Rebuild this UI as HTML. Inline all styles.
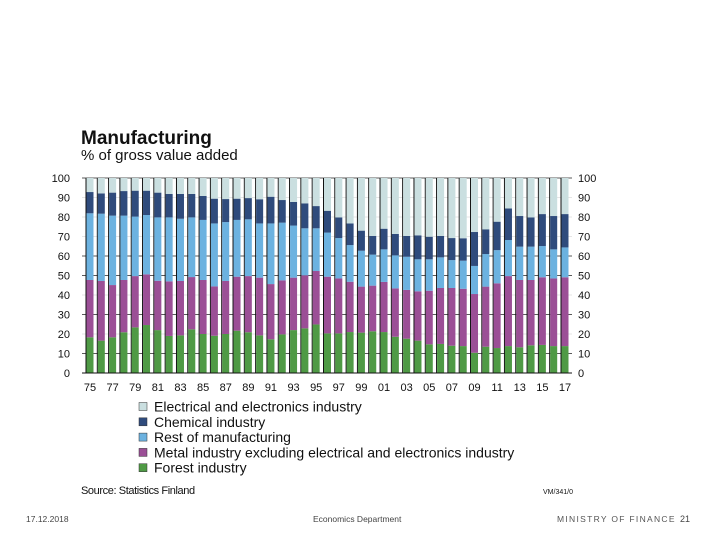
<!DOCTYPE html>
<html><head><meta charset="utf-8">
<style>
body{margin:0;background:#fff;}
svg text{font-family:"Liberation Sans",Arial,sans-serif;}
</style></head>
<body>
<svg id="chart" width="720" height="540" viewBox="0 0 720 540" xmlns="http://www.w3.org/2000/svg">
<rect width="720" height="540" fill="#fff"/>
<text x="81" y="144" font-size="19" font-weight="bold" fill="#111">Manufacturing</text>
<text x="81" y="160" font-size="15" fill="#111">% of gross value added</text>
<g id="grid"></g>
<g id="bars"></g>
<g id="axes"></g>
<g id="legend"></g>
<text x="81" y="494" font-size="11" fill="#111" letter-spacing="-0.4">Source: Statistics Finland</text>
<text x="543" y="494" font-size="7" fill="#111">VM/341/0</text>
<text x="26" y="522" font-size="8.5" fill="#444">17.12.2018</text>
<text x="313" y="522" font-size="8.5" fill="#444">Economics Department</text>
<text x="557" y="522" font-size="8.5" fill="#555" letter-spacing="1.3">MINISTRY OF FINANCE</text>
<text x="680" y="522" font-size="9" fill="#444">21</text>
</svg>
<script>
const years=[75,76,77,78,79,80,81,82,83,84,85,86,87,88,89,90,91,92,93,94,95,96,97,98,99,0,1,2,3,4,5,6,7,8,9,10,11,12,13,14,15,16,17];
const forest=[18.3,16.6,18.3,20.9,23.4,24.6,22.0,19.0,19.3,22.4,20.0,19.1,20.0,21.7,20.9,19.3,17.3,19.8,22.0,22.9,24.9,20.3,20.3,21.0,20.7,21.4,21.0,18.6,17.6,16.6,14.7,14.9,14.0,13.8,10.4,13.5,12.8,13.8,13.2,14.2,14.4,13.8,13.8];
const metal=[29.4,30.6,26.8,26.8,26.3,26.0,25.3,28.0,27.9,26.8,27.7,25.3,27.2,27.7,28.8,29.6,28.3,27.7,26.9,27.2,27.4,29.1,28.2,25.8,23.6,23.4,25.7,24.8,25.0,25.3,27.5,28.7,29.6,29.4,30.1,30.8,33.2,35.9,34.5,33.5,34.7,34.7,35.3];
const restMfg=[34.2,34.5,35.6,33.0,30.5,30.4,32.5,32.8,31.9,30.6,30.8,32.3,30.2,29.1,29.1,27.8,31.1,29.6,26.7,24.1,21.9,22.6,20.7,18.8,18.4,15.9,16.7,16.9,17.0,16.4,16.1,15.7,14.3,14.4,14.4,16.7,17.0,18.5,17.1,17.1,16.0,14.9,15.3];
const chemical=[10.9,10.4,11.8,12.6,13.3,12.5,12.7,12.0,12.7,12.0,12.3,12.7,11.8,10.9,10.9,12.4,13.7,11.6,12.1,12.8,11.4,11.2,10.6,11.1,10.3,9.6,10.6,11.0,10.7,12.3,11.6,11.0,11.3,11.5,17.4,12.7,14.6,16.2,15.7,15.0,16.4,17.1,17.1];
const electrical=[7.2,7.9,7.5,6.7,6.5,6.5,7.5,8.2,8.2,8.2,9.2,10.6,10.8,10.6,10.3,10.9,9.6,11.3,12.3,13.0,14.4,16.8,20.2,23.3,27.0,29.7,26.0,28.7,29.7,29.4,30.1,29.7,30.8,30.9,27.7,26.3,22.4,15.6,19.5,20.2,18.5,19.5,18.5];
const yTicks=[0,10,20,30,40,50,60,70,80,90,100];
const seriesNames=["Forest industry","Metal industry excluding electrical and electronics industry","Rest of manufacturing","Chemical industry","Electrical and electronics industry"];
const seriesColors=["#4f9a45","#9b4f96","#6cb2e0","#2f4b7c","#cadfe0"];
const seriesKeys=["forest","metal","rest","chemical","electrical"];

const NS="http://www.w3.org/2000/svg";
const x0=90, step=(565-90)/42, yBase=373, yTop=178;
function xs(i){return x0+i*step;}
function ys(v){return yBase-(v/100)*(yBase-yTop);}
function mk(tag,attrs,parent){const e=document.createElementNS(NS,tag);for(const k in attrs)e.setAttribute(k,attrs[k]);parent.appendChild(e);return e;}
const grid=document.getElementById('grid'),bars=document.getElementById('bars'),axes=document.getElementById('axes'),legend=document.getElementById('legend');

[10,30,50,60,100].forEach(v=>{
  const l=mk('line',{x1:82,x2:572,y1:ys(v),y2:ys(v),stroke:'#222','stroke-width':0.8},grid);
  
  
});
[20,40,70,80,90].forEach(v=>{
  const l=mk('line',{x1:82,x2:572,y1:ys(v),y2:ys(v),stroke:'#ddd','stroke-width':0.8},grid);
  
  
});

const all=[forest,metal,restMfg,chemical,electrical];
years.forEach((yr,i)=>{
  let cum=0;
  const cx=xs(i), w=7;
  const sep=mk('line',{x1:cx-w/2-0.5,x2:cx-w/2-0.5,y1:ys(100),y2:yBase,stroke:'#111','stroke-width':1},bars);
  
  
  all.forEach((s,k)=>{
    const v=s[i];
    const r=mk('rect',{x:cx-w/2,y:ys(cum+v),width:w,height:ys(cum)-ys(cum+v),fill:seriesColors[k]},bars);
    
    
    cum+=v;
  });
});
const base=mk('line',{x1:82,x2:572,y1:yBase,y2:yBase,stroke:'#111','stroke-width':1},axes);



yTicks.forEach(v=>{
  const t=mk('text',{x:70,y:ys(v)+4,'font-size':11,'text-anchor':'end',fill:'#111'},axes);
  t.textContent=v;
  
  
  const t2=mk('text',{x:578,y:ys(v)+4,'font-size':11,fill:'#111'},axes);
  t2.textContent=v;
  
  
});
years.forEach((yr,i)=>{
  if(i%2!==0)return;
  const t=mk('text',{x:xs(i),y:391,'font-size':11,'text-anchor':'middle',fill:'#111'},axes);
  t.textContent=String(yr).padStart(2,'0');
  
  
});
for(let k=4;k>=0;k--){
  const row=4-k, y=407+row*15.3;
  const r=mk('rect',{x:139,y:y-4.5,width:8,height:8,fill:seriesColors[k],stroke:'#333','stroke-width':0.5},legend);
  
  
  const t=mk('text',{x:154,y:y+4.5,'font-size':14,fill:'#111'},legend);
  t.textContent=seriesNames[k];
  
  
}
</script>
</body></html>
